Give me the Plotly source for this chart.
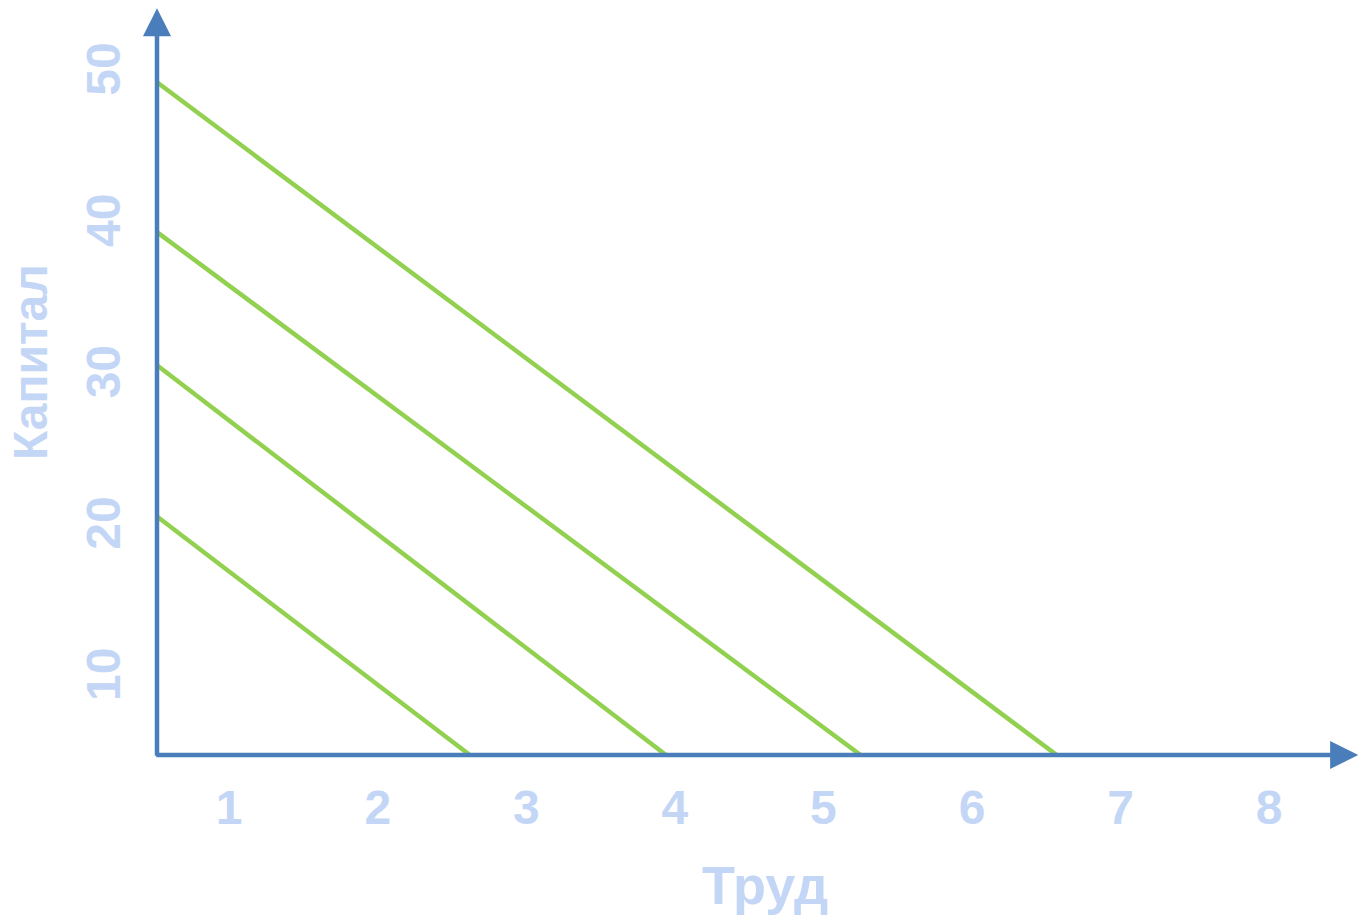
import plotly.graph_objects as go

# Isocost lines: capital intercept (at labour origin) and labour intercept (at capital origin)
capital_intercepts = [20.9, 30.9, 39.7, 49.6]
labour_intercepts = [2.62, 3.94, 5.25, 6.57]

x_ticks = [1, 2, 3, 4, 5, 6, 7, 8]
y_ticks = [10, 20, 30, 40, 50]

x_title = "Труд"
y_title = "Капитал"

# where the two drawn axes cross, and how far they run
x_origin, y_origin = 0.514, 5.14
x_end, y_end = 8.60, 54.5

AXIS_BLUE = "#4a7ebb"
LINE_GREEN = "#92d050"
TEXT_BLUE = "#c4d6f6"
FONT = "Liberation Sans, Arial, sans-serif"

fig = go.Figure()

for k_int, l_int in zip(capital_intercepts, labour_intercepts):
    fig.add_trace(go.Scatter(
        x=[x_origin, l_int], y=[k_int, y_origin],
        mode="lines",
        line=dict(color=LINE_GREEN, width=4.5),
        hoverinfo="skip", showlegend=False,
    ))

# axes with filled arrowheads
arrow_style = dict(xref="x", yref="y", axref="x", ayref="y", showarrow=True,
                   arrowhead=2, arrowsize=1.25, arrowwidth=4.5, arrowcolor=AXIS_BLUE,
                   text="", standoff=0, startstandoff=0)
fig.add_annotation(x=x_origin, y=y_end, ax=x_origin, ay=y_origin - 0.15, **arrow_style)
fig.add_annotation(x=x_end, y=y_origin, ax=x_origin - 0.015, ay=y_origin, **arrow_style)

# axis titles (paper coordinates relative to the plotting area)
fig.add_annotation(x=0.506, y=-0.174, xref="paper", yref="paper", text=x_title,
                   xanchor="center", yanchor="middle", showarrow=False,
                   font=dict(family=FONT, size=54, color=TEXT_BLUE, weight="bold"))
fig.add_annotation(x=-0.1057, y=0.526, xref="paper", yref="paper", text=y_title,
                   xanchor="center", yanchor="middle", showarrow=False, textangle=-90,
                   font=dict(family=FONT, size=48, color=TEXT_BLUE, weight="bold"))

tick_font = dict(family=FONT, size=48, color=TEXT_BLUE, weight="bold")

fig.update_layout(
    width=1359, height=920,
    margin=dict(l=157, r=0, t=8, b=165),
    paper_bgcolor="white", plot_bgcolor="white",
    xaxis=dict(range=[x_origin, 8.605], tickvals=x_ticks, ticktext=[str(v) for v in x_ticks],
               showgrid=False, zeroline=False, showline=False, ticks="",
               ticklabelstandoff=20, tickfont=tick_font),
    yaxis=dict(range=[y_origin, 54.51], tickvals=y_ticks, ticktext=[str(v) for v in y_ticks],
               showgrid=False, zeroline=False, showline=False, ticks="",
               tickangle=-90, ticklabelstandoff=26, tickfont=tick_font),
)

fig.write_html("out.html")
